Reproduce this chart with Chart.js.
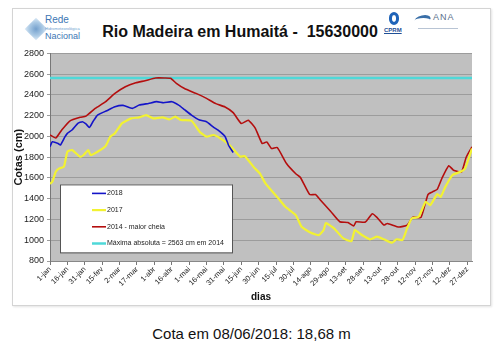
<!DOCTYPE html>
<html>
<head>
<meta charset="utf-8">
<script src="https://cdn.jsdelivr.net/npm/chart.js@4.4.0/dist/chart.umd.min.js"></script>
<style>
  body { margin:0; background:#fff; font-family:"Liberation Sans", Arial, sans-serif; }
  #page { position:relative; width:503px; height:353px; overflow:hidden; }
  #frame { position:absolute; left:12px; top:8px; width:477px; height:296px; border:1px solid #d4d4d4; box-shadow:1px 1px 2px #e4e4e4; }
  #title { position:absolute; left:0; width:480px; top:23px; text-align:center; font-weight:bold; font-size:16px; color:#111; white-space:pre; }
  #cota { position:absolute; left:0; width:503px; top:325px; text-align:center; font-size:15px; color:#111; }
  #wrap { position:absolute; left:12px; top:45px; width:479px; height:258px; }
  .logo { position:absolute; }
</style>
</head>
<body>
<div id="page">
  <div id="frame"></div>
  <!-- logo rede hidrometeorologica -->
  <div class="logo" style="left:28px;top:21px;width:16px;height:16px;transform:rotate(45deg);background:radial-gradient(circle,#5b8fc4 0,#9cc0e0 60%,#d6e6f4 100%);opacity:.85"></div>
  <div class="logo" style="left:45px;top:15px;font-size:10px;color:#3d76b4;line-height:10px">Rede</div>
  <div class="logo" style="left:45px;top:26px;font-size:4px;color:#6f9fd0;line-height:5px">Hidrometeorológica</div>
  <div class="logo" style="left:45px;top:31px;font-size:9px;color:#3d76b4;line-height:10px">Nacional</div>
  <div id="title">Rio Madeira em Humaitá -  15630000</div>
  <!-- CPRM -->
  <div class="logo" style="left:389px;top:12px;width:10px;height:13px;border:3px solid #1f63b8;border-radius:7px/8px;box-sizing:border-box"></div>
  <div class="logo" style="left:384px;top:27px;font-size:6px;font-weight:bold;color:#1f4f96;text-decoration:underline">CPRM</div>
  <!-- ANA -->
  <div class="logo" style="left:414px;top:15px;width:16px;height:8px;border-top:3px solid #3a6fa8;border-radius:50% 50% 0 0;transform:skewX(-30deg)"></div>
  <div class="logo" style="left:433px;top:12px;font-size:9px;color:#5a6f8c;letter-spacing:1px">ANA</div>
  <div class="logo" style="left:418px;top:28px;width:40px;height:1px;background:#b8c4d4"></div>
  <div id="wrap"><canvas id="grafico" width="479" height="258"></canvas></div>
  <div id="cota">Cota em 08/06/2018: 18,68 m</div>
</div>
<script>
// eixo x: dias do ano
var tickDias = [1, 16, 31, 46, 61, 76, 91, 106, 121, 136, 151, 166, 181, 196, 211, 226, 241, 256, 271, 286, 301, 316, 331, 346, 361];
var tickLabels = ['1-jan','16-jan','31-jan','15-fev','2-mar','17-mar','1-abr','16-abr','1-mai','16-mai','31-mai','15-jun','30-jun','15-jul','30-jul','14-ago','29-ago','13-set','28-set','13-out','28-out','12-nov','27-nov','12-dez','27-dez'];

// 2018
var dias2018 = [1, 3, 8, 10, 14, 16, 20, 25, 29, 32, 35, 38, 42, 50, 57, 64, 72, 78, 86, 93, 99, 106, 112, 117, 123, 130, 136, 142, 146, 152, 155, 159];
var cota2018 = [1901, 1949, 1933, 1917, 1998, 2030, 2062, 2126, 2142, 2120, 2087, 2142, 2206, 2248, 2286, 2299, 2270, 2302, 2318, 2335, 2325, 2335, 2302, 2258, 2206, 2158, 2142, 2090, 2060, 2000, 1915, 1845];

// 2017
var dias2017 = [1, 3, 6, 9, 13, 16, 20, 27, 30, 34, 36, 42, 49, 53, 57, 63, 71, 78, 84, 90, 98, 104, 109, 114, 123, 130, 136, 142, 148, 156, 165, 169, 177, 182, 187, 198, 204, 213, 218, 226, 233, 237, 239, 246, 254, 261, 264, 270, 277, 283, 289, 296, 300, 305, 309, 313, 319, 325, 329, 335, 338, 342, 348, 355, 359, 365];
var cota2017 = [1542, 1564, 1660, 1692, 1709, 1853, 1869, 1805, 1821, 1869, 1821, 1853, 1908, 1998, 2030, 2126, 2174, 2184, 2206, 2174, 2184, 2164, 2190, 2158, 2152, 2046, 1998, 2014, 1982, 1915, 1805, 1811, 1700, 1644, 1545, 1403, 1322, 1242, 1130, 1072, 1050, 1098, 1165, 1114, 1018, 992, 1098, 1050, 1009, 1034, 1009, 976, 1009, 1002, 1114, 1210, 1226, 1370, 1338, 1444, 1418, 1514, 1627, 1659, 1691, 1884];

// 2014 - maior cheia
var dias2014 = [1, 6, 11, 18, 27, 32, 40, 49, 57, 66, 75, 83, 92, 100, 105, 110, 117, 127, 136, 144, 152, 159, 166, 172, 178, 184, 188, 192, 197, 205, 213, 217, 225, 230, 234, 243, 251, 258, 263, 265, 273, 279, 283, 289, 292, 302, 309, 314, 321, 327, 331, 335, 339, 345, 349, 356, 360, 365];
var cota2014 = [2015, 1985, 2060, 2148, 2184, 2196, 2270, 2335, 2415, 2479, 2517, 2537, 2563, 2563, 2560, 2511, 2461, 2415, 2367, 2316, 2284, 2230, 2124, 2156, 2080, 1932, 1947, 1884, 1893, 1739, 1640, 1605, 1440, 1440, 1390, 1280, 1178, 1170, 1137, 1178, 1175, 1255, 1220, 1146, 1162, 1127, 1146, 1222, 1220, 1440, 1466, 1490, 1595, 1718, 1675, 1659, 1800, 1900];

var maxAbsoluta = 2563;

function pontos(d, v) {
  var out = [];
  for (var i = 0; i < d.length; i++) out.push({x: d[i], y: v[i]});
  return out;
}

var fundo = {
  id: 'fundo',
  beforeDraw: function(chart) {
    var a = chart.chartArea, ctx = chart.ctx;
    ctx.save();
    ctx.fillStyle = '#c0c0c0';
    ctx.fillRect(a.left, a.top, a.right - a.left, a.bottom - a.top);
    ctx.restore();
  }
};

// legenda desenhada dentro da area do grafico
var legenda = {
  id: 'legenda',
  afterDatasetsDraw: function(chart) {
    var a = chart.chartArea, ctx = chart.ctx;
    var x0 = a.left + 10, y0 = a.top + 131;
    ctx.save();
    ctx.fillStyle = '#fff';
    ctx.fillRect(x0, y0, 172, 68);
    ctx.strokeStyle = '#555';
    ctx.lineWidth = 1;
    ctx.strokeRect(x0 + 0.5, y0 + 0.5, 172, 68);
    ctx.font = '7px "Liberation Sans", Arial';
    ctx.textBaseline = 'middle';
    chart.data.datasets.forEach(function(ds, i) {
      var y = y0 + 9 + i * 16.7;
      ctx.strokeStyle = ds.borderColor;
      ctx.lineWidth = ds.borderWidth;
      ctx.beginPath();
      ctx.moveTo(x0 + 32, y);
      ctx.lineTo(x0 + 46, y);
      ctx.stroke();
      ctx.fillStyle = '#222';
      ctx.fillText(ds.label, x0 + 47, y);
    });
    ctx.restore();
  }
};

new Chart(document.getElementById('grafico'), {
  type: 'line',
  data: {
    datasets: [
      { label: '2018', data: pontos(dias2018, cota2018), borderColor: '#1414c8', borderWidth: 1.6 },
      { label: '2017', data: pontos(dias2017, cota2017), borderColor: '#f2f232', borderWidth: 2.2 },
      { label: '2014 - maior cheia', data: pontos(dias2014, cota2014), borderColor: '#b40e0e', borderWidth: 1.6 },
      { label: 'Máxima absoluta = ' + maxAbsoluta + ' cm em 2014', data: [{x: 1, y: maxAbsoluta}, {x: 365, y: maxAbsoluta}], borderColor: '#4fd8d8', borderWidth: 2.5 }
    ]
  },
  options: {
    responsive: false,
    animation: false,
    layout: { padding: { top: 8, right: 19, left: 0, bottom: 0 } },
    elements: { point: { radius: 0 }, line: { tension: 0.15 } },
    plugins: { legend: { display: false }, tooltip: { enabled: false } },
    scales: {
      x: {
        type: 'linear', min: 1, max: 365,
        afterBuildTicks: function(scale) { scale.ticks = tickDias.map(function(v) { return {value: v}; }); },
        afterFit: function(scale) { scale.height = 42; },
        ticks: {
          autoSkip: false, minRotation: 45, maxRotation: 45, padding: 0,
          color: '#222', font: { size: 7.5, family: '"Liberation Sans", Arial' },
          callback: function(v, i) { return tickLabels[i]; }
        },
        grid: { drawOnChartArea: false, color: '#777', tickLength: 4 },
        border: { color: '#888' },
        title: { display: true, text: 'dias', color: '#111', font: { size: 10, weight: 'bold', family: '"Liberation Sans", Arial' }, padding: 0 }
      },
      y: {
        min: 800, max: 2800,
        afterFit: function(scale) { scale.width = 38; },
        ticks: {
          stepSize: 200, color: '#222', padding: 3, font: { size: 9, family: '"Liberation Sans", Arial' },
          callback: function(v) { return String(v); }
        },
        grid: { color: '#9c9c9c', tickLength: 3 },
        border: { color: '#777' },
        title: { display: true, text: 'Cotas (cm)', color: '#111', font: { size: 11, weight: 'bold', family: '"Liberation Sans", Arial' }, padding: 0 }
      }
    }
  },
  plugins: [fundo, legenda]
});
</script>
</body>
</html>
